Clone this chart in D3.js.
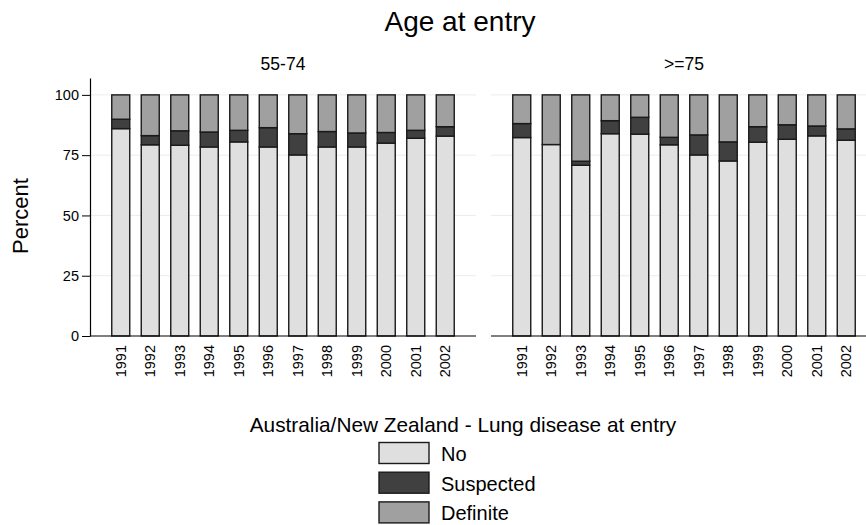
<!doctype html>
<html>
	<head>
		<title>Age at entry - lung disease</title>
		<script src="https://d3js.org/d3.v7.min.js"></script>
		<style>
		body { margin: 0; background: #fff; }
		svg { display: block; font-family: "Liberation Sans", Arial, sans-serif; }
		</style>
	</head>
	<body>
		<svg id="chart" width="866" height="525"></svg>
		<script>
		// values (percent)
		var years = ["1991", "1992", "1993", "1994", "1995", "1996", "1997", "1998", "1999", "2000", "2001", "2002"];
		var panels = ["55-74", ">=75"];
		var categories = ["No", "Suspected", "Definite"];
		var colors = ["#dfdfdf", "#404040", "#a0a0a0"];
		var yTicks = [0, 25, 50, 75, 100];

		var noA   = [86.0, 79.3, 79.1, 78.4, 80.5, 78.4, 75.1, 78.4, 78.4, 80.0, 82.0, 82.9];
		var suspA = [3.9, 3.8, 6.0, 6.2, 4.8, 8.0, 8.8, 6.4, 5.8, 4.4, 3.3, 3.9];
		var defA  = [10.1, 16.9, 14.9, 15.4, 14.7, 13.6, 16.1, 15.2, 15.8, 15.6, 14.7, 13.2];

		var noB   = [82.3, 79.4, 70.8, 83.9, 83.7, 79.3, 75.1, 72.6, 80.4, 81.6, 83.0, 81.2];
		var suspB = [5.8, 0.0, 1.7, 5.4, 7.0, 3.1, 8.3, 7.9, 6.4, 6.0, 4.1, 4.7];
		var defB  = [11.9, 20.6, 27.5, 10.7, 9.3, 17.6, 16.6, 19.5, 13.2, 12.4, 12.9, 14.1];

		var series = [[noA, suspA, defA], [noB, suspB, defB]];

		var svg = d3.select("#chart");
		var panelW = 386, plotTop = 78, plotBottom = 336;
		var panelX = [90, 491];

		var y = d3.scaleLinear().domain([0, 107]).range([plotBottom, plotTop]);
		var x = d3.scaleBand().domain(years).range([16, panelW - 16]).paddingInner(0.39).paddingOuter(0.195);
		var color = d3.scaleOrdinal().domain(categories).range(colors);
		var stack = d3.stack().keys(categories);

		svg.append("text")
			.attr("x", 460).attr("y", 31)
			.attr("text-anchor", "middle")
			.style("font-size", "28px")
			.text("Age at entry");

		svg.append("text")
			.attr("transform", "translate(28,216) rotate(-90)")
			.attr("text-anchor", "middle")
			.style("font-size", "22px")
			.text("Percent");

		panels.forEach(function(name, p) {
			var rows = years.map(function(yr, i) {
				return {year: yr, No: series[p][0][i], Suspected: series[p][1][i], Definite: series[p][2][i]};
			});
			var g = svg.append("g").attr("transform", "translate(" + panelX[p] + ",0)");

			// grid
			g.selectAll(".grid").data(yTicks.slice(1)).enter().append("line")
				.attr("x1", 0).attr("x2", panelW)
				.attr("y1", function(d) { return y(d); })
				.attr("y2", function(d) { return y(d); })
				.attr("stroke", "#ececec").attr("stroke-width", 1);

			g.append("text")
				.attr("x", panelW / 2).attr("y", 70)
				.attr("text-anchor", "middle")
				.style("font-size", "17.5px")
				.text(name);

			g.selectAll(".layer").data(stack(rows)).enter().append("g")
				.attr("fill", function(d) { return color(d.key); })
				.selectAll("rect").data(function(d) { return d; }).enter().append("rect")
				.attr("x", function(d) { return x(d.data.year); })
				.attr("width", x.bandwidth())
				.attr("y", function(d) { return y(d[1]); })
				.attr("height", function(d) { return y(d[0]) - y(d[1]); })
				.attr("stroke", "#1a1a1a").attr("stroke-width", 1.4);

			var xAxis = g.append("g")
				.attr("transform", "translate(0," + plotBottom + ")")
				.call(d3.axisBottom(x).tickSize(0).tickPadding(0));
			xAxis.select(".domain").attr("d", "M0,0H" + panelW).attr("stroke", "#000").attr("stroke-width", 1.2);
			xAxis.selectAll("text")
				.attr("transform", "rotate(-90)")
				.attr("x", -9).attr("y", 0).attr("dy", "0.35em")
				.attr("text-anchor", "end")
				.style("font-size", "14.5px")
				.style("font-family", "inherit");

			if (p === 0) {
				var yAxis = g.append("g")
					.call(d3.axisLeft(y).tickValues(yTicks).tickSize(8).tickSizeOuter(0).tickPadding(3));
				yAxis.select(".domain").attr("stroke-width", 1.2);
				yAxis.selectAll("text").style("font-size", "14.5px").style("font-family", "inherit");
			}
		});

		// legend
		var legend = svg.append("g");
		legend.append("text")
			.attr("x", 463).attr("y", 432)
			.attr("text-anchor", "middle")
			.style("font-size", "20.8px")
			.text("Australia/New Zealand - Lung disease at entry");

		var item = legend.selectAll(".item").data(categories).enter().append("g")
			.attr("transform", function(d, i) { return "translate(379," + (442.5 + i * 29.7) + ")"; });
		item.append("rect")
			.attr("width", 50).attr("height", 21)
			.attr("fill", function(d) { return color(d); })
			.attr("stroke", "#1a1a1a").attr("stroke-width", 1.4);
		item.append("text")
			.attr("x", 62).attr("y", 18.5)
			.style("font-size", "20px")
			.text(function(d) { return d; });
		</script>
	</body>
</html>
